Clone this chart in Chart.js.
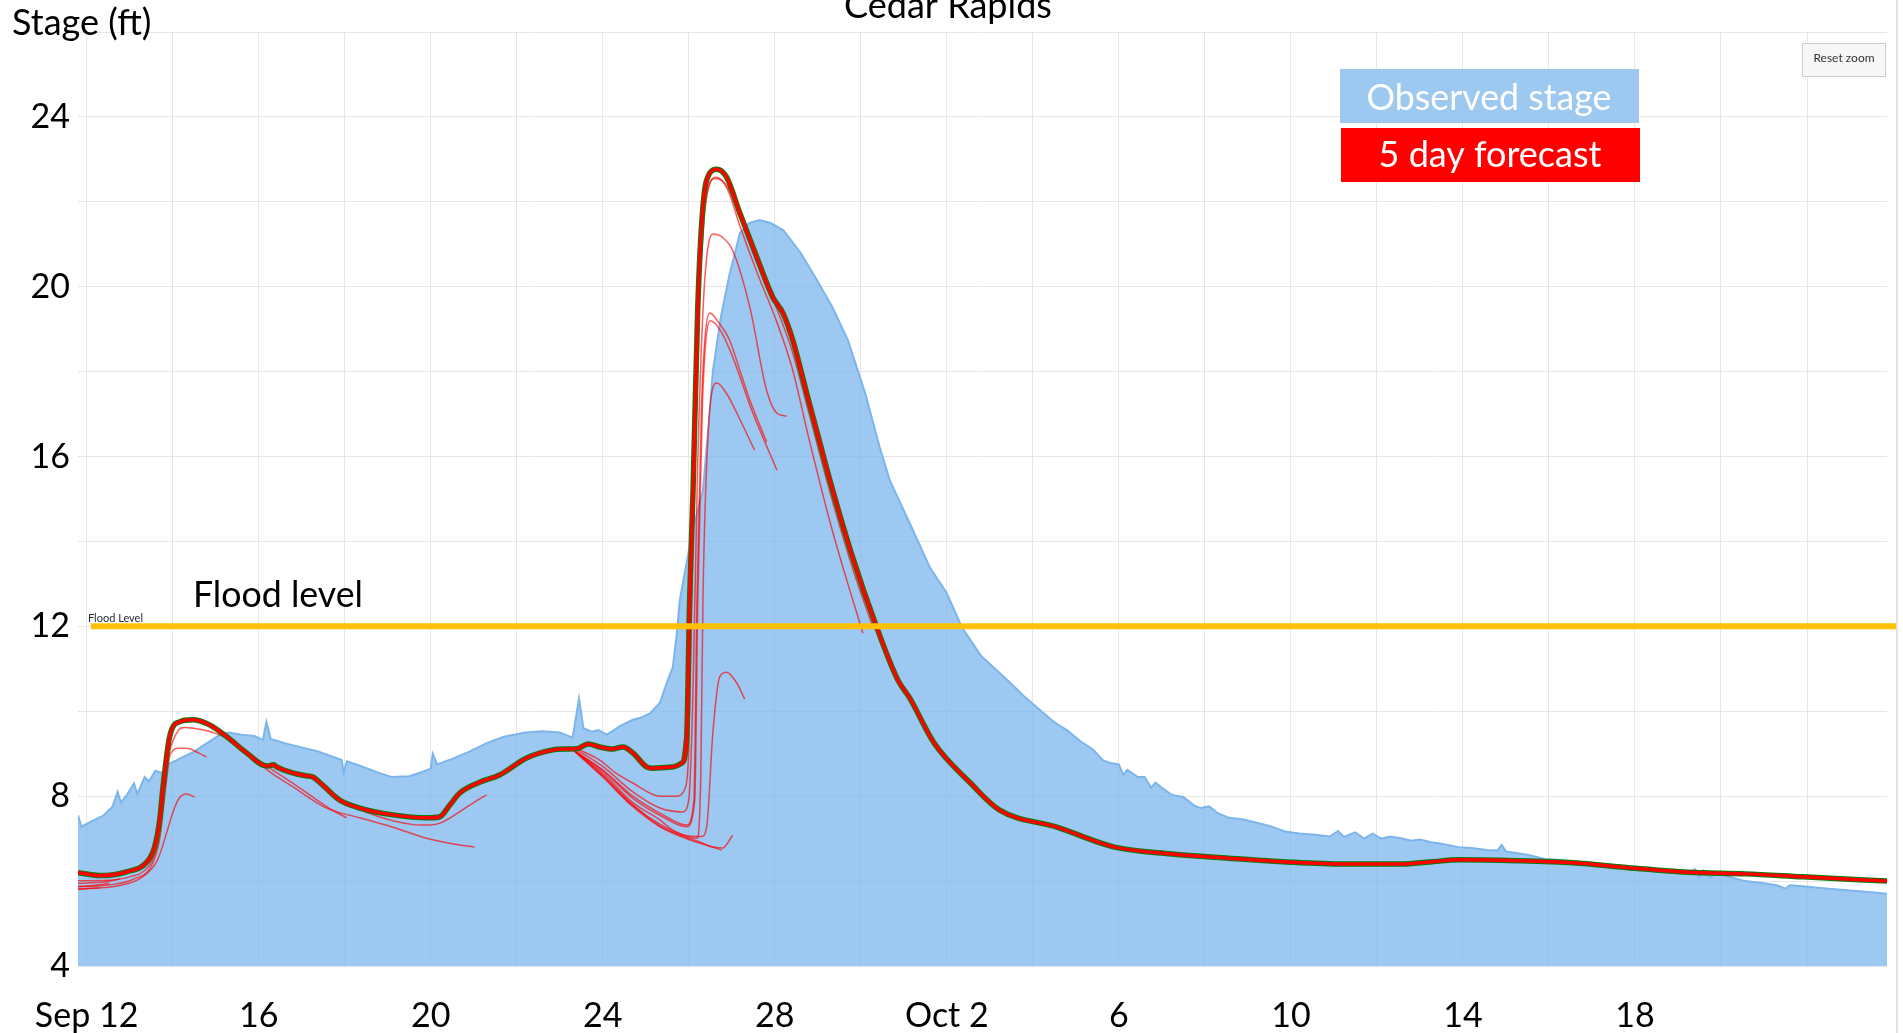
<!DOCTYPE html>
<html>
<head>
<meta charset="utf-8">
<title>Cedar Rapids</title>
<script src="https://cdn.jsdelivr.net/npm/chart.js@4.4.1/dist/chart.umd.min.js"></script>
<style>
    html, body { margin: 0; padding: 0; background: #fff; overflow: hidden; }
    #wrap { width: 1903px; height: 1033px; }
</style>
</head>
<body>
<div id="wrap"><canvas id="grafico" width="1903" height="1033"></canvas></div>
<script>
// Eixos (dias contados a partir de 12 de setembro)
const xGridDays = [0, 2, 4, 6, 8, 10, 12, 14, 16, 18, 20, 22, 24, 26, 28, 30, 32, 34, 36, 38, 40];
const xTickDays = [0, 4, 8, 12, 16, 20, 24, 28, 32, 36];
const xTickLabels = ['Sep 12', '16', '20', '24', '28', 'Oct 2', '6', '10', '14', '18'];
const yGridValues = [4, 6, 8, 10, 12, 14, 16, 18, 20, 22, 24, 26];
const yTickValues = [4, 8, 12, 16, 20, 24];

const floodLevel = 12;
const floodSpan = [0.1, 42.1];

// Nível observado
const obsDays = [-0.2, -0.12, 0.1, 0.4, 0.6, 0.72, 0.8, 0.95, 1.1, 1.18, 1.35, 1.45, 1.6, 1.75, 1.9,
    2.2, 2.5, 2.8, 3.1, 3.3, 3.6, 3.9, 4.1, 4.18, 4.28, 4.6, 5.0, 5.4, 5.8, 5.93, 5.98, 6.05,
    6.4, 6.8, 7.1, 7.5, 7.8, 8.0, 8.05, 8.15, 8.5, 8.9, 9.3, 9.7, 10.2, 10.6, 11.0, 11.3, 11.45,
    11.55, 11.75, 11.9, 12.1, 12.4, 12.7, 12.86, 13.1, 13.33, 13.5, 13.63, 13.72, 13.79, 13.95,
    14.1, 14.33, 14.45, 14.56, 14.75, 14.95, 15.19, 15.4, 15.65, 15.9, 16.2, 16.6, 16.98, 17.35,
    17.7, 18.1, 18.44, 18.67, 19.21, 19.6, 20.0, 20.35, 20.8, 21.4, 21.8, 22.2, 22.5, 22.8, 23.1,
    23.4, 23.63, 23.8, 24.0, 24.1, 24.2, 24.44, 24.6, 24.75, 24.85, 25.0, 25.23, 25.5, 25.75,
    25.9, 26.1, 26.3, 26.56, 26.9, 27.23, 27.5, 27.9, 28.2, 28.56, 28.9, 29.1, 29.23, 29.5, 29.7,
    29.9, 30.1, 30.3, 30.56, 30.8, 31.0, 31.23, 31.5, 31.9, 32.2, 32.56, 32.8, 32.9, 33.0, 33.23,
    33.5, 33.9, 34.2, 34.56, 35.0, 35.5, 35.9, 36.3, 36.8, 37.23, 37.4, 37.5, 37.6, 37.75, 37.9,
    38.2, 38.56, 39.0, 39.3, 39.5, 39.6, 39.9, 40.5, 41.0, 41.5, 41.9];
const obsStage = [7.55, 7.28, 7.4, 7.55, 7.75, 8.1, 7.85, 8.05, 8.3, 8.05, 8.45, 8.35, 8.6, 8.55, 8.75,
    8.9, 9.05, 9.25, 9.45, 9.5, 9.45, 9.42, 9.32, 9.75, 9.35, 9.25, 9.15, 9.05, 8.9, 8.85, 8.55, 8.82,
    8.7, 8.55, 8.45, 8.47, 8.57, 8.65, 9.0, 8.75, 8.88, 9.05, 9.25, 9.4, 9.5, 9.53, 9.5, 9.38, 10.3,
    9.6, 9.52, 9.56, 9.45, 9.65, 9.8, 9.84, 9.95, 10.2, 10.7, 11.04, 11.8, 12.6, 13.5,
    14.3, 15.2, 16.6, 18.0, 19.3, 20.3, 21.26, 21.5, 21.57, 21.5, 21.33, 20.8, 20.16, 19.5,
    18.74, 17.5, 16.22, 15.45, 14.27, 13.4, 12.78, 11.98, 11.3, 10.74, 10.35, 10.0, 9.74, 9.55, 9.3,
    9.1, 8.85, 8.78, 8.75, 8.5, 8.62, 8.45, 8.45, 8.2, 8.32, 8.2, 8.03, 7.98, 7.78,
    7.72, 7.76, 7.6, 7.49, 7.45, 7.37, 7.3, 7.16, 7.12, 7.09, 7.05, 7.18, 7.04, 7.15, 7.0,
    7.12, 7.0, 7.05, 7.01, 6.95, 6.98, 6.92, 6.88, 6.8, 6.78, 6.73, 6.72, 6.85, 6.7, 6.66,
    6.62, 6.52, 6.5, 6.47, 6.42, 6.36, 6.31, 6.28, 6.24, 6.21, 6.28, 6.1, 6.25, 6.08, 6.2,
    6.1, 6.0, 5.95, 5.9, 5.82, 5.9, 5.88, 5.82, 5.78, 5.74, 5.7];

// Linha contínua (simulada)
const mainDays = [-0.2, 0.3, 0.93, 1.4, 1.58, 1.7, 1.77, 1.93, 2.16, 2.47, 2.86, 3.26, 3.72, 4.19,
    4.35, 4.42, 4.79, 5.1, 5.26, 5.49, 5.88, 6.35, 7.12, 7.9, 8.2, 8.45, 8.67, 9.14, 9.6, 10.23,
    10.84, 11.16, 11.4, 11.66, 11.93, 12.23, 12.47, 12.7, 13.02, 13.16, 13.63, 13.84, 13.95, 14.02,
    14.1, 14.21, 14.33, 14.49, 14.65, 14.88, 15.19, 15.58, 15.95, 16.19, 16.42, 16.74, 17.05, 17.28,
    17.81, 18.37, 18.86, 19.14, 19.7, 20.55, 21.23, 22.56, 23.9, 25.23, 26.56, 27.9, 29.23, 30.56,
    31.23, 31.9, 33.23, 34.56, 35.9, 37.23, 38.56, 39.9, 41.86];
const mainStage = [6.2, 6.13, 6.22, 6.45, 6.8, 7.44, 8.15, 9.4, 9.75, 9.8, 9.68, 9.4, 9.02, 8.71,
    8.74, 8.69, 8.55, 8.48, 8.45, 8.26, 7.91, 7.72, 7.56, 7.49, 7.51, 7.8, 8.07, 8.33, 8.5, 8.9,
    9.09, 9.11, 9.12, 9.23, 9.16, 9.11, 9.16, 9.02, 8.69, 8.66, 8.69, 8.78, 9.32, 12.62,
    15.2, 19.52, 21.88, 22.68, 22.77, 22.58, 21.73, 20.7, 19.76, 19.38, 18.74, 17.5, 16.32, 15.45,
    13.63, 11.98, 10.74, 10.31, 9.26, 8.31, 7.67, 7.27, 6.8, 6.64, 6.54, 6.45, 6.4, 6.4,
    6.45, 6.5, 6.48, 6.43, 6.31, 6.21, 6.17, 6.1, 6.0];

// Previsões de 5 dias (dia, nível)
const fcInicio1 = [[-0.2, 5.95], [0.4, 5.98], [0.77, 6.05]];
const fcInicio2 = [[-0.2, 5.87], [0.2, 5.9], [0.53, 5.95]];
const fcInicio3 = [[-0.2, 5.81], [0.3, 5.84]];
const fcSubida1 = [[-0.2, 6.01], [0.5, 6.02], [1.0, 6.1], [1.4, 6.3], [1.6, 6.7], [1.75, 7.6], [1.9, 8.9],
    [2.1, 9.5], [2.3, 9.62], [2.6, 9.58], [3.0, 9.48], [3.4, 9.3], [3.8, 9.0], [4.2, 8.62], [4.8, 8.22],
    [5.58, 7.72], [6.35, 7.49], [7.12, 7.27], [7.9, 7.01], [8.5, 6.88], [9.02, 6.8]];
const fcSubida2 = [[-0.2, 5.87], [0.6, 5.92], [1.1, 6.05], [1.5, 6.35], [1.7, 7.0], [1.85, 8.3], [1.95, 9.0],
    [2.15, 9.13], [2.33, 9.13], [2.6, 9.02], [2.79, 8.92]];
const fcSubida3 = [[-0.2, 5.81], [0.8, 5.9], [1.3, 6.1], [1.65, 6.5], [1.85, 7.1], [2.0, 7.6], [2.15, 7.95],
    [2.33, 8.05], [2.51, 7.98]];
const fcMeio1 = [[3.5, 9.2], [4.2, 8.7], [4.8, 8.3], [5.3, 7.95], [5.7, 7.68], [6.05, 7.49]];
const fcMeio2 = [[6.0, 7.85], [6.5, 7.62], [7.12, 7.42], [7.6, 7.33], [7.9, 7.32], [8.2, 7.36], [8.67, 7.63],
    [9.0, 7.85], [9.3, 8.03]];
const fcPicoA = [[11.4, 9.12], [11.93, 8.85], [12.3, 8.55], [12.7, 8.31], [13.33, 8.0], [13.7, 8.0],
    [13.92, 8.2], [14.0, 9.1], [14.07, 12.6], [14.2, 18.5], [14.35, 21.5], [14.5, 22.45], [14.65, 22.58],
    [14.9, 22.3], [15.2, 21.4], [15.6, 20.3], [16.0, 19.3], [16.4, 18.1], [16.8, 16.4], [17.3, 14.4],
    [17.7, 13.0], [18.05, 11.84]];
const fcPicoB = [[13.84, 8.78], [13.98, 10.5], [14.1, 15.5], [14.25, 20.5], [14.45, 22.35], [14.62, 22.55],
    [14.9, 22.35], [15.2, 21.6], [15.6, 20.55], [16.0, 19.6], [16.4, 18.5], [16.8, 17.0], [17.3, 15.1],
    [17.8, 13.4], [18.28, 11.98]];
const fcPico21 = [[11.35, 9.12], [12.0, 8.7], [12.7, 8.1], [13.33, 7.72], [13.86, 7.63], [14.0, 7.91],
    [14.1, 10.5], [14.2, 15.5], [14.35, 19.8], [14.56, 21.24], [14.8, 21.15], [15.02, 20.86], [15.42, 19.52],
    [15.81, 17.56], [16.05, 17.02], [16.28, 16.95]];
const fcPico19a = [[11.3, 9.1], [12.0, 8.62], [12.7, 8.0], [13.33, 7.6], [13.95, 7.32], [14.12, 7.9],
    [14.19, 12.6], [14.3, 17.3], [14.49, 19.38], [14.7, 19.15], [14.95, 18.74], [15.2, 18.0], [15.42, 17.33],
    [15.81, 16.34]];
const fcPico19b = [[11.3, 9.1], [12.0, 8.6], [12.7, 7.95], [13.33, 7.55], [13.95, 7.28], [14.14, 7.9],
    [14.21, 12.6], [14.32, 17.3], [14.5, 19.2], [14.75, 18.95], [15.0, 18.4], [15.5, 17.0], [16.05, 15.68]];
const fcPico17 = [[11.3, 9.1], [12.0, 8.55], [12.7, 7.85], [13.33, 7.44], [13.63, 7.2], [14.19, 7.01],
    [14.28, 8.5], [14.33, 12.6], [14.45, 16.5], [14.65, 17.73], [14.9, 17.45], [15.12, 17.02], [15.53, 16.15]];
const fcBaixa1 = [[11.3, 9.1], [12.0, 8.5], [12.7, 7.8], [13.33, 7.3], [13.8, 7.08], [14.26, 6.92],
    [14.5, 6.82], [14.79, 6.78], [15.02, 7.08]];
const fcBaixa2 = [[11.3, 9.1], [12.0, 8.48], [12.7, 7.78], [13.33, 7.34], [13.9, 7.08], [14.3, 7.05],
    [14.42, 7.3], [14.56, 9.49], [14.72, 10.81], [14.88, 10.92], [15.12, 10.66], [15.3, 10.29]];
const fcBaixa3 = [[11.3, 9.1], [12.0, 8.45], [12.7, 7.75], [13.33, 7.28], [14.0, 6.98], [14.4, 6.85],
    [14.77, 6.73]];

const previsoes = [fcInicio1, fcInicio2, fcInicio3, fcSubida1, fcSubida2, fcSubida3, fcMeio1, fcMeio2,
    fcPicoA, fcPicoB, fcPico21, fcPico19a, fcPico19b, fcPico17, fcBaixa1, fcBaixa2, fcBaixa3];

const fonte = 'Lato, "Open Sans", sans-serif';

function juntar(dias, valores) {
    return dias.map((d, i) => ({ x: d, y: valores[i] }));
}

function dePares(lista) {
    return lista.map(([x, y]) => ({ x, y }));
}

// Textos e caixas sobrepostos ao gráfico
const sobreposicoes = {
    id: 'sobreposicoes',
    afterDraw(chart) {
        const ctx = chart.ctx;
        const yCheia = chart.scales.y.getPixelForValue(floodLevel);
        ctx.save();

        // título cortado no topo
        ctx.fillStyle = '#fff';
        ctx.fillRect(823, 0, 250, 32);
        ctx.fillStyle = '#000';
        ctx.font = '36px ' + fonte;
        ctx.textAlign = 'center';
        ctx.textBaseline = 'alphabetic';
        ctx.fillText('Cedar Rapids', 948, 18, 209);

        ctx.textAlign = 'left';
        ctx.fillText('Stage (ft)', 12, 35, 143);
        ctx.fillText('Flood level', 193, yCheia - 19, 170);

        ctx.font = '11px ' + fonte;
        ctx.fillStyle = '#222a3a';
        ctx.fillText('Flood Level', 88, yCheia - 4);

        // legenda
        ctx.fillStyle = 'rgb(157,200,240)';
        ctx.fillRect(1340, 69, 299, 54);
        ctx.fillStyle = '#ff0000';
        ctx.fillRect(1341, 128, 299, 54);
        ctx.fillStyle = '#fff';
        ctx.font = '36px ' + fonte;
        ctx.textAlign = 'center';
        ctx.fillText('Observed stage', 1489, 110, 245);
        ctx.fillText('5 day forecast', 1490, 167, 223);

        // botão de zoom
        ctx.fillStyle = '#f7f7f7';
        ctx.strokeStyle = '#cccccc';
        ctx.lineWidth = 1;
        ctx.fillRect(1802.5, 43.5, 83, 33);
        ctx.strokeRect(1802.5, 43.5, 83, 33);
        ctx.fillStyle = '#333';
        ctx.font = '12px ' + fonte;
        ctx.textBaseline = 'middle';
        ctx.fillText('Reset zoom', 1844, 58);

        // borda da janela
        ctx.fillStyle = '#e2e2e2';
        ctx.fillRect(1896, 0, 2, 1033);
        ctx.restore();
    }
};

function criarGrafico() {
    const ctx = document.getElementById('grafico').getContext('2d');

    const datasets = [];

    // ordem menor fica por cima
    datasets.push({
        label: 'Flood level',
        data: floodSpan.map(d => ({ x: d, y: floodLevel })),
        borderColor: '#ffc000',
        borderWidth: 6,
        fill: false,
        pointRadius: 0,
        clip: false,
        order: 0
    });

    datasets.push({
        label: 'Forecast',
        data: juntar(mainDays, mainStage),
        borderColor: '#ff0000',
        borderWidth: 3.5,
        fill: false,
        cubicInterpolationMode: 'monotone',
        pointRadius: 0,
        order: 1
    });

    datasets.push({
        label: 'Simulated',
        data: juntar(mainDays, mainStage),
        borderColor: '#0a7d0a',
        borderWidth: 5.5,
        fill: false,
        cubicInterpolationMode: 'monotone',
        pointRadius: 0,
        order: 2
    });

    previsoes.forEach((prev, i) => {
        datasets.push({
            label: '5 day forecast ' + (i + 1),
            data: dePares(prev),
            borderColor: 'rgba(255,0,0,0.65)',
            borderWidth: 1.5,
            fill: false,
            cubicInterpolationMode: 'monotone',
            pointRadius: 0,
            order: 3
        });
    });

    datasets.push({
        label: 'Observed stage',
        data: juntar(obsDays, obsStage),
        borderColor: '#7cb5ec',
        backgroundColor: 'rgba(124,181,236,0.75)',
        borderWidth: 2,
        fill: 'start',
        tension: 0,
        pointRadius: 0,
        order: 10
    });

    new Chart(ctx, {
        type: 'line',
        data: { datasets: datasets },
        options: {
            responsive: false,
            animation: false,
            devicePixelRatio: 1,
            layout: {
                padding: { top: 32, right: 16, left: 0, bottom: 0 }
            },
            plugins: {
                legend: { display: false },
                title: { display: false },
                tooltip: { enabled: false }
            },
            scales: {
                x: {
                    type: 'linear',
                    min: -0.2,
                    max: 41.86,
                    afterBuildTicks: axis => {
                        axis.ticks = xGridDays.map(v => ({ value: v }));
                    },
                    afterFit: scale => { scale.height = 67; },
                    grid: { color: '#e6e6e6', drawTicks: false },
                    border: { display: false },
                    ticks: {
                        autoSkip: false,
                        maxRotation: 0,
                        padding: 30,
                        color: '#000',
                        font: { family: fonte, size: 34 },
                        callback: function(value) {
                            const i = xTickDays.indexOf(value);
                            return i >= 0 ? xTickLabels[i] : '';
                        }
                    }
                },
                y: {
                    type: 'linear',
                    min: 4,
                    max: 26,
                    afterBuildTicks: axis => {
                        axis.ticks = yGridValues.map(v => ({ value: v }));
                    },
                    afterFit: scale => { scale.width = 78; },
                    grid: { color: '#e6e6e6', drawTicks: false },
                    border: { display: false },
                    ticks: {
                        autoSkip: false,
                        padding: 8,
                        color: '#000',
                        font: { family: fonte, size: 34 },
                        callback: function(value) {
                            return yTickValues.includes(value) ? String(value) : '';
                        }
                    }
                }
            }
        },
        plugins: [sobreposicoes]
    });
}

window.addEventListener('load', criarGrafico);
</script>
</body>
</html>
